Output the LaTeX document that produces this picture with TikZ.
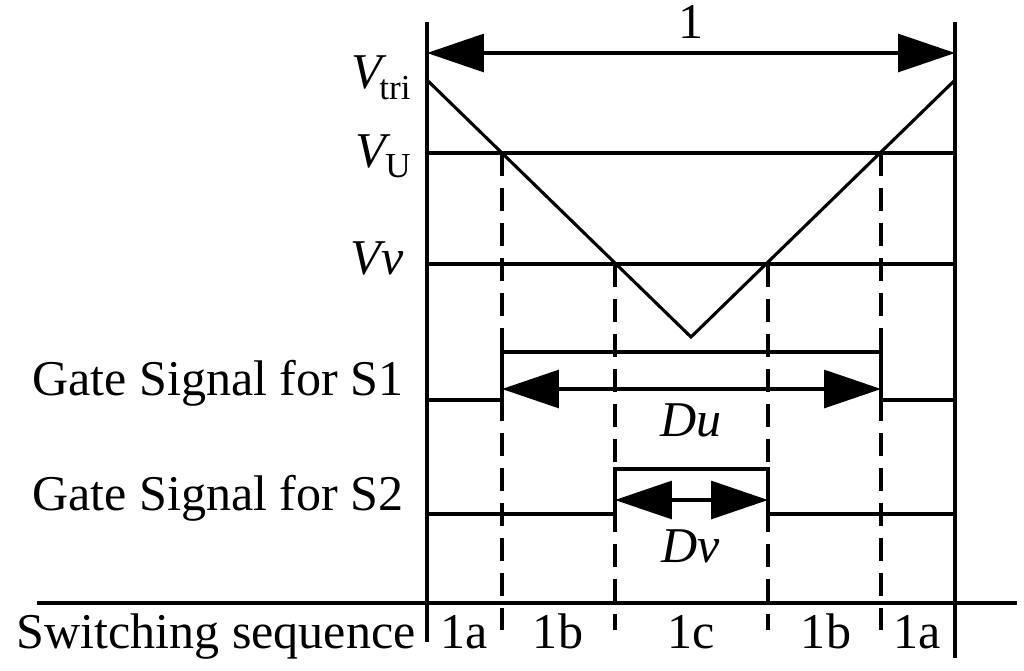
\documentclass[tikz,border=0pt]{standalone}
\usepackage{fontspec}
\setmainfont{Liberation Serif}
\usetikzlibrary{arrows.meta}
\begin{document}
\begin{tikzpicture}[x=0.02cm,y=-0.02cm,
  ln/.style={line width=0.062cm},
  dsh/.style={line width=0.07cm,dash pattern=on 0.46cm off 0.24cm},
  dim/.style={line width=0.062cm,{Triangle[length=1.14cm,width=0.76cm]}-{Triangle[length=1.14cm,width=0.76cm]}},
  lbl/.style={inner sep=0pt,font=\fontsize{28.5}{34}\selectfont}]
\useasboundingbox (0,0) rectangle (1024,670);
% frame verticals
\coordinate (lt) at (427,22); \coordinate (lb) at (427,642);
\coordinate (rt) at (955,22); \coordinate (rb) at (955,658);
\draw[ln] (lt) -- (lb);
\draw[ln] (rt) -- (rb);
% period arrow
\coordinate (pa) at (427,53); \coordinate (pb) at (955,53);
\draw[dim] (pa) -- (pb);
\node[lbl,anchor=base] (one) at (691,38) {1};
% triangle
\coordinate (t1) at (427,80); \coordinate (t2) at (691,337); \coordinate (t3) at (955,80);
\draw[ln,line join=miter] (t1) -- (t2) -- (t3);
% levels
\coordinate (u1) at (427,153); \coordinate (u2) at (955,153);
\coordinate (v1) at (427,264); \coordinate (v2) at (955,264);
\draw[ln] (u1) -- (u2);
\draw[ln] (v1) -- (v2);
% dashed
\coordinate (d1t) at (502,153); \coordinate (d1b) at (502,630);
\coordinate (d2t) at (615,264); \coordinate (d2b) at (615,630);
\coordinate (d3t) at (768,264); \coordinate (d3b) at (768,630);
\coordinate (d4t) at (881,153); \coordinate (d4b) at (881,630);
\draw[dsh] (d1t) -- (d1b);
\draw[dsh] (d2t) -- (d2b);
\draw[dsh] (d3t) -- (d3b);
\draw[dsh] (d4t) -- (d4b);
% gate S1
\coordinate (s1a) at (427,400); \coordinate (s1b) at (502,400); \coordinate (s1c) at (502,352);
\coordinate (s1d) at (881,352); \coordinate (s1e) at (881,400); \coordinate (s1f) at (955,400);
\draw[ln,line join=miter] (s1a) -- (s1b) -- (s1c) -- (s1d) -- (s1e) -- (s1f);
\coordinate (du1) at (502,389); \coordinate (du2) at (881,389);
\draw[dim] (du1) -- (du2);
\node[lbl,anchor=base] (du) at (691,436) {\itshape Du};
% gate S2
\coordinate (s2a) at (427,514); \coordinate (s2b) at (615,514); \coordinate (s2c) at (615,469);
\coordinate (s2d) at (768,469); \coordinate (s2e) at (768,514); \coordinate (s2f) at (955,514);
\draw[ln,line join=miter] (s2a) -- (s2b) -- (s2c) -- (s2d) -- (s2e) -- (s2f);
\coordinate (dv1) at (615,500); \coordinate (dv2) at (768,500);
\draw[dim] (dv1) -- (dv2);
\node[lbl,anchor=base] (dv) at (691,562) {\itshape Dv};
% axis
\coordinate (ax1) at (37,603); \coordinate (ax2) at (1017,603);
\draw[line width=0.08cm] (ax1) -- (ax2);
% left labels
\node[lbl,anchor=base east] (vtri) at (411,88) {\itshape V\kern-0.05em\raisebox{-0.22em}{\upshape\fontsize{20}{24}\selectfont tri}};
\node[lbl,anchor=base east] (vu) at (411,167) {\itshape V\kern-0.02em\raisebox{-0.2em}{\upshape\fontsize{20}{24}\selectfont U}};
\node[lbl,anchor=base east] (vv) at (404,274) {\itshape Vv};
\node[lbl,anchor=base east] (g1) at (404,395) {Gate Signal for S1};
\node[lbl,anchor=base east] (g2) at (404,510) {Gate Signal for S2};
\node[lbl,anchor=base east] (sw) at (416,648) {Switching sequence};
% sequence labels
\node[lbl,anchor=base] (q1) at (464,648) {1a};
\node[lbl,anchor=base] (q2) at (558,648) {1b};
\node[lbl,anchor=base] (q3) at (691,648) {1c};
\node[lbl,anchor=base] (q4) at (826,648) {1b};
\node[lbl,anchor=base] (q5) at (917,648) {1a};
\end{tikzpicture}
\end{document}
